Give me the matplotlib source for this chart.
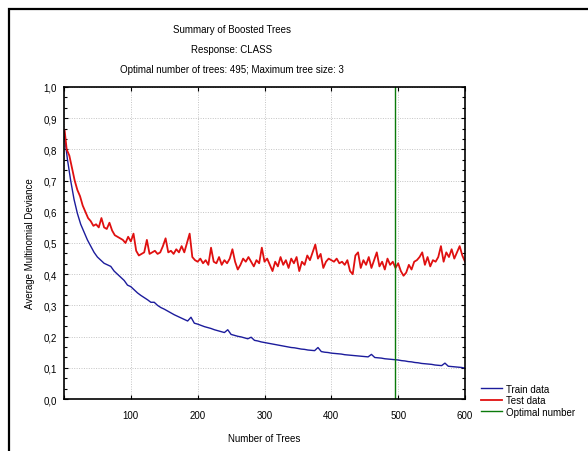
import numpy as np
import matplotlib
matplotlib.use("Agg")
import matplotlib.pyplot as plt
from matplotlib.ticker import FuncFormatter, MultipleLocator, AutoMinorLocator
from matplotlib.patches import Rectangle

plt.rcParams['font.family'] = ['Liberation Sans', 'DejaVu Sans']

# ---- data ----
test_trees = [1] + list(range(4, 601, 4))
test_dev = [
    0.86, 0.80, 0.78, 0.74, 0.70, 0.67, 0.65, 0.62, 0.60, 0.58,
    0.57, 0.555, 0.56, 0.55, 0.58, 0.55, 0.545, 0.565, 0.54, 0.525,
    0.52, 0.515, 0.51, 0.50, 0.52, 0.505, 0.53, 0.475, 0.46, 0.465,
    0.47, 0.51, 0.465, 0.47, 0.475, 0.465, 0.47, 0.49, 0.515, 0.47,
    0.475, 0.465, 0.48, 0.47, 0.49, 0.47, 0.50, 0.53, 0.455, 0.445,
    0.44, 0.45, 0.435, 0.445, 0.43, 0.485, 0.44, 0.435, 0.455, 0.43,
    0.445, 0.435, 0.45, 0.48, 0.44, 0.415, 0.43, 0.45, 0.44, 0.455,
    0.44, 0.425, 0.445, 0.435, 0.485, 0.44, 0.45, 0.43, 0.41, 0.44,
    0.425, 0.455, 0.43, 0.445, 0.42, 0.45, 0.435, 0.455, 0.41, 0.44,
    0.43, 0.46, 0.445, 0.47, 0.495, 0.45, 0.465, 0.42, 0.44, 0.45,
    0.445, 0.44, 0.45, 0.435, 0.44, 0.43, 0.445, 0.41, 0.40, 0.46,
    0.47, 0.42, 0.445, 0.43, 0.455, 0.42, 0.445, 0.47, 0.425, 0.44,
    0.415, 0.45, 0.43, 0.44, 0.42, 0.435, 0.41, 0.395, 0.405, 0.43,
    0.415, 0.44, 0.445, 0.455, 0.47, 0.43, 0.455, 0.425, 0.445, 0.44,
    0.455, 0.49, 0.44, 0.47, 0.455, 0.48, 0.45, 0.47, 0.49, 0.46, 0.44,
]

train_trees = [1] + list(range(5, 601, 5))
train_dev = [
    0.84, 0.77, 0.70, 0.64, 0.595, 0.56, 0.535, 0.51, 0.49, 0.47,
    0.455, 0.445, 0.435, 0.43, 0.425, 0.41, 0.40, 0.39, 0.38, 0.365,
    0.36, 0.35, 0.34, 0.332, 0.325, 0.318, 0.31, 0.31, 0.30, 0.293,
    0.288, 0.282, 0.276, 0.27, 0.265, 0.26, 0.255, 0.25, 0.262, 0.243,
    0.24, 0.236, 0.232, 0.229, 0.226, 0.222, 0.219, 0.216, 0.213, 0.222,
    0.207, 0.204, 0.201, 0.199, 0.196, 0.193, 0.198, 0.188, 0.186, 0.183,
    0.181, 0.179, 0.177, 0.175, 0.173, 0.171, 0.169, 0.167, 0.165, 0.164,
    0.162, 0.160, 0.159, 0.157, 0.156, 0.155, 0.165, 0.152, 0.150, 0.149,
    0.147, 0.146, 0.145, 0.144, 0.142, 0.141, 0.140, 0.139, 0.138, 0.137,
    0.136, 0.135, 0.143, 0.133, 0.132, 0.131, 0.129, 0.128, 0.127, 0.126,
    0.125, 0.123, 0.122, 0.120, 0.119, 0.117, 0.116, 0.114, 0.113, 0.112,
    0.111, 0.109, 0.108, 0.107, 0.115, 0.105, 0.104, 0.103, 0.102, 0.101, 0.099,
]

optimal_trees = 495
title_lines = ["Summary of Boosted Trees",
               "Response: CLASS",
               "Optimal number of trees: 495; Maximum tree size: 3"]
legend_labels = ["Train data", "Test data", "Optimal number"]

# ---- figure ----
W, H = 588, 452
fig = plt.figure(figsize=(W / 100, H / 100), dpi=100)
ax = fig.add_axes([64 / W, 1 - 400 / H, (465 - 64) / W, (400 - 88) / H])

l_train, = ax.plot(train_trees, train_dev, color='#1c1c9c', lw=1.0)
l_test, = ax.plot(test_trees, test_dev, color='#e01010', lw=1.3)
l_opt = ax.axvline(optimal_trees, color='#0a7a0a', lw=1.0)

ax.set_xlim(0, 600)
ax.set_ylim(0, 1.0)
ax.xaxis.set_major_locator(MultipleLocator(100))
ax.yaxis.set_major_locator(MultipleLocator(0.1))
ax.yaxis.set_minor_locator(AutoMinorLocator(3))
ax.xaxis.set_major_formatter(FuncFormatter(lambda v, p: "" if v == 0 else f"{int(v)}"))
ax.yaxis.set_major_formatter(FuncFormatter(lambda v, p: f"{v:.1f}".replace('.', ',')))
ax.tick_params(which='both', direction='in', top=True, right=True, labelsize=7, width=0.8)
ax.tick_params(which='major', length=3, pad=5)
ax.tick_params(axis='x', which='major', pad=8)
ax.tick_params(which='minor', length=2)
ax.grid(True, which='major', color='#c4c4c4', linestyle=(0, (1, 1.5)), lw=0.7)
for s in ax.spines.values():
    s.set_linewidth(1.2)

ax.set_xlabel("Number of Trees", fontsize=7, labelpad=9)
ax.set_ylabel("Average Multinomial Deviance", fontsize=7, labelpad=6)

for i, t in enumerate(title_lines):
    fig.text(232 / W, 1 - (30 + 20 * i) / H, t, ha='center', va='center', fontsize=7)

fig.legend([l_train, l_test, l_opt], legend_labels, loc='upper left',
           bbox_to_anchor=(476 / W, 1 - 380 / H), frameon=False, fontsize=7,
           handlelength=2.2, handletextpad=0.4, labelspacing=0.15, borderpad=0)

fig.add_artist(Rectangle((9 / W, -0.5), 2, 0.5 + 1 - 10 / H, transform=fig.transFigure,
                         fill=False, edgecolor='black', lw=1.6, clip_on=False))

fig.savefig("out.png", dpi=100, facecolor='white')
